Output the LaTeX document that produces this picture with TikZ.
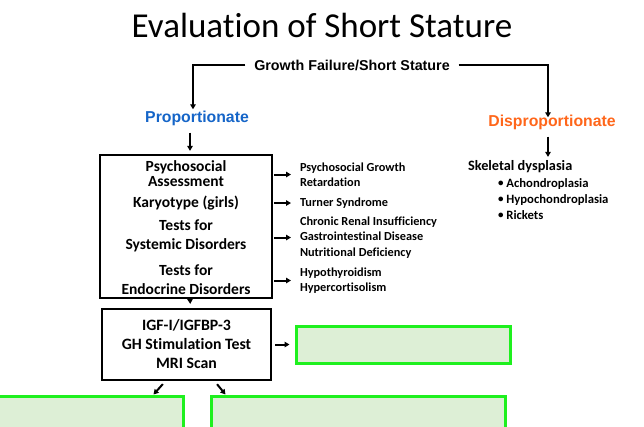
\documentclass[tikz,border=0pt]{standalone}
\usepackage{fontspec}
\setmainfont{Carlito}[RawFeature=-liga]
\newfontfamily\arialfont{Liberation Sans}
\usetikzlibrary{positioning, arrows.meta}
\definecolor{propblue}{HTML}{1565C8}
\definecolor{disporange}{HTML}{FF661A}
\definecolor{boxgreen}{HTML}{1EF01E}
\definecolor{boxfill}{HTML}{DDEFD6}
\newcommand{\smallbul}{\raisebox{1pt}{\fontsize{11}{11}\selectfont\textbullet}\ }

\begin{document}
\begin{tikzpicture}[x=1pt, y=-1pt, line width=2pt,
    >={Triangle[length=5pt, width=5.5pt]},
    test/.style={font=\bfseries\fontsize{15.5}{15}\selectfont, align=center, inner sep=0pt},
    result/.style={font=\bfseries\fontsize{12.3}{15.5}\selectfont, align=left, anchor=west, inner sep=0pt},
    testbox/.style={draw, line width=2.2pt},
    greenbox/.style={draw=boxgreen, fill=boxfill, line width=3pt}]
    \useasboundingbox (0,0) rectangle (644,426);
    \clip (0,0) rectangle (644,426);

    % title and first split
    \node (title) at (322,25) {\fontsize{35}{38}\selectfont Evaluation of Short Stature};
    \node[inner xsep=8pt, font=\arialfont\bfseries\fontsize{14.3}{16}\selectfont] (gf) at (352,65) {Growth Failure/Short Stature};
    \node[text=propblue, font=\arialfont\bfseries\fontsize{15.8}{18}\selectfont] (prop) at (197,118) {Proportionate};
    \node[text=disporange, font=\arialfont\bfseries\fontsize{15.8}{18}\selectfont] (disp) at (552,122) {Disproportionate};

    % first box of tests
    \node[testbox, minimum width=172pt, minimum height=143pt] (box1) at (186,226.5) {};
    \node[test] (psa) at (186,174) {Psychosocial\\Assessment};
    \node[test] (kar) at (186,203) {Karyotype (girls)};
    \node[test, font=\bfseries\fontsize{15.5}{19}\selectfont] (syst) at (186,235.5) {Tests for\\Systemic Disorders};
    \node[test, font=\bfseries\fontsize{15.5}{19}\selectfont] (endot) at (186,280) {Tests for\\Endocrine Disorders};

    \node[result] (psr) at (299,174.5) {Psychosocial Growth\\Retardation};
    \node[result] (ts) at (299,203) {Turner Syndrome};
    \node[result] (sys) at (299,237.5) {Chronic Renal Insufficiency\\Gastrointestinal Disease\\Nutritional Deficiency};
    \node[result] (endo) at (299,280.5) {Hypothyroidism\\Hypercortisolism};

    % skeletal side
    \node[result, font=\bfseries\fontsize{14.3}{16}\selectfont] (skel) at (467,167) {Skeletal dysplasia};
    \node[result, font=\bfseries\fontsize{12.7}{16}\selectfont] (bul) at (497,199) {\smallbul Achondroplasia\\\smallbul Hypochondroplasia\\\smallbul Rickets};

    % second box and empty boxes
    \node[testbox, test, inner sep=0pt, minimum width=169pt, minimum height=71pt, font=\bfseries\fontsize{15.8}{19}\selectfont] (box2) at (186.5,344.5) {IGF-I/IGFBP-3\\GH Stimulation Test\\MRI Scan};
    \node[greenbox, minimum width=214pt, minimum height=37pt] (gr) at (403,344.5) {};
    \node[greenbox, minimum width=203pt, minimum height=44pt] (gl) at (81.5,418) {};
    \node[greenbox, minimum width=294pt, minimum height=44pt] (gm) at (358,418) {};

    \draw[->] (gf.west) -| ([xshift=-4pt, yshift=-3pt]prop.north);
    \draw[->] (gf.east) -| ([xshift=-4pt, yshift=-7pt]disp.north);
    \draw[->, shorten <=3pt, shorten >=3pt] ([xshift=4pt]box1.north |- prop.south) -- ([xshift=4pt]box1.north);
    \draw[->, shorten <=3pt, shorten >=3pt] ([xshift=-4pt]disp.south) -- ([xshift=-4pt]disp.south |- skel.north);
    \draw[->, shorten <=1pt, shorten >=8pt] (box1.east |- psr.west) -- (psr.west);
    \draw[->, shorten <=1pt, shorten >=8pt] (box1.east |- ts.west) -- (ts.west);
    \draw[->, shorten <=1pt, shorten >=8pt] (box1.east |- sys.west) -- (sys.west);
    \draw[->, shorten <=1pt, shorten >=8pt] (box1.east |- endo.west) -- (endo.west);
    \draw[->, shorten <=3pt, shorten >=4pt] (box1.south) ++(4,0) -- ([xshift=4pt]box2.north);
    \draw[->, shorten <=3pt, shorten >=5pt] (box2.east) -- (gr.west);
    \draw[->, shorten <=4pt] ([xshift=-21pt]box2.south) -- ([xshift=-31pt]gl.north east);
    \draw[->, shorten <=4pt] ([xshift=28pt]box2.south) -- ([xshift=16pt]gm.north west);
\end{tikzpicture}
\end{document}
